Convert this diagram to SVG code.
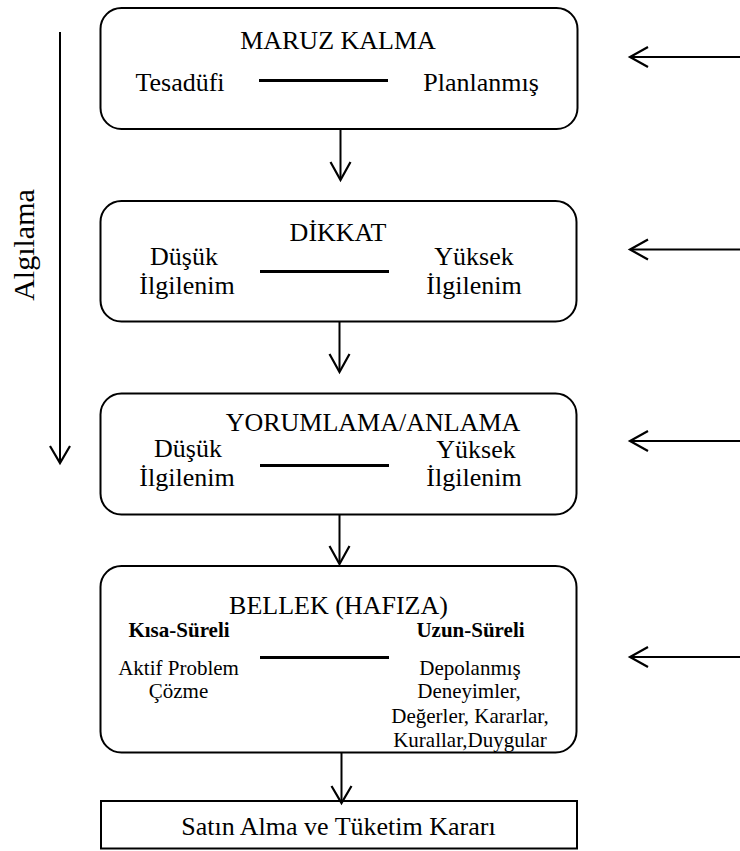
<svg xmlns="http://www.w3.org/2000/svg" width="740" height="851" viewBox="0 0 740 851">
  <defs>
    <style>
      .box { fill: #fff; stroke: #000; stroke-width: 2; }
      .sep { stroke: #000; stroke-width: 3; }
      .con { fill: none; stroke: #000; stroke-width: 2; }
      .head { fill: none; stroke: #000; stroke-width: 2.2; stroke-linejoin: miter; }
      text { font-family: "Liberation Serif", "Times New Roman", serif; fill: #000; }
      .t { font-size: 26px; }
      .c { text-anchor: middle; }
      .s { font-size: 21px; }
      .b { font-weight: bold; }
    </style>
  </defs>
  <rect width="740" height="851" fill="#fff"/>

  <!-- stage 1 -->
  <g id="maruz-kalma">
    <rect class="box" x="100.5" y="8" width="477" height="121" rx="21"/>
    <text class="t c" x="338" y="49">MARUZ KALMA</text>
    <text class="t c" x="180" y="91">Tesadüfi</text>
    <line class="sep" x1="259" y1="80.5" x2="388" y2="80.5"/>
    <text class="t c" x="481" y="91">Planlanmış</text>
  </g>

  <!-- stage 2 -->
  <g id="dikkat">
    <rect class="box" x="100.5" y="201" width="476" height="120.5" rx="21"/>
    <text class="t c" x="338" y="241">DİKKAT</text>
    <text class="t c" x="184" y="265">Düşük</text>
    <text class="t c" x="187" y="294">İlgilenim</text>
    <line class="sep" x1="260" y1="271.5" x2="389" y2="271.5"/>
    <text class="t c" x="474" y="265">Yüksek</text>
    <text class="t c" x="474" y="294">İlgilenim</text>
  </g>

  <!-- stage 3 -->
  <g id="yorumlama">
    <rect class="box" x="100.5" y="393.5" width="476" height="121" rx="21"/>
    <text class="t c" x="373" y="431">YORUMLAMA/ANLAMA</text>
    <text class="t c" x="188" y="457">Düşük</text>
    <text class="t c" x="187" y="486">İlgilenim</text>
    <line class="sep" x1="260" y1="465.5" x2="389" y2="465.5"/>
    <text class="t c" x="476" y="457.5">Yüksek</text>
    <text class="t c" x="474" y="486">İlgilenim</text>
  </g>

  <!-- stage 4 -->
  <g id="bellek">
    <rect class="box" x="100.5" y="566" width="476" height="186.5" rx="21"/>
    <text class="t c" x="338.5" y="614">BELLEK (HAFIZA)</text>
    <text class="s b c" x="179" y="637">Kısa-Süreli</text>
    <text class="s b c" x="470.5" y="637">Uzun-Süreli</text>
    <line class="sep" x1="260" y1="657.5" x2="389" y2="657.5"/>
    <text class="s c" x="178.5" y="675">Aktif Problem</text>
    <text class="s c" x="178.5" y="698">Çözme</text>
    <text class="s c" x="470" y="675">Depolanmış</text>
    <text class="s c" x="469" y="698">Deneyimler,</text>
    <text class="s c" x="470" y="723">Değerler, Kararlar,</text>
    <text class="s c" x="470" y="747">Kurallar,Duygular</text>
  </g>

  <!-- outcome -->
  <g id="karar">
    <rect class="box" x="101" y="801" width="476" height="47.5" rx="0"/>
    <text class="t c" x="338.5" y="835">Satın Alma ve Tüketim Kararı</text>
  </g>

  <!-- perception axis -->
  <g id="algilama">
    <text transform="translate(34,245) rotate(-90)" style="font-size:30px" class="c">Algılama</text>
  </g>

  <g id="connectors">
    <!-- downward flow -->
    <line class="con" x1="340.5" y1="129" x2="340.5" y2="179"/>
    <polyline class="head" points="330.5,162 340.5,180 350.5,162"/>
    <line class="con" x1="339.5" y1="321.5" x2="339.5" y2="371"/>
    <polyline class="head" points="329.5,354 339.5,372 349.5,354"/>
    <line class="con" x1="339.5" y1="514.5" x2="339.5" y2="562"/>
    <polyline class="head" points="329.5,546 339.5,564 349.5,546"/>
    <line class="con" x1="341.5" y1="752.5" x2="341.5" y2="802"/>
    <polyline class="head" points="331.5,786 341.5,803 351.5,786"/>

    <!-- perception axis arrow -->
    <line class="con" x1="60" y1="32" x2="60" y2="462"/>
    <polyline class="head" points="50,446 60,463 70,446"/>

    <!-- external inputs -->
    <line class="con" x1="631" y1="57" x2="740" y2="57"/>
    <polyline class="head" points="648,47 630,57 648,67"/>
    <line class="con" x1="631" y1="249.5" x2="740" y2="249.5"/>
    <polyline class="head" points="648,239.5 630,249.5 648,259.5"/>
    <line class="con" x1="631" y1="441" x2="740" y2="441"/>
    <polyline class="head" points="648,431 630,441 648,451"/>
    <line class="con" x1="631" y1="657" x2="740" y2="657"/>
    <polyline class="head" points="648,647 630,657 648,667"/>
  </g>
</svg>
